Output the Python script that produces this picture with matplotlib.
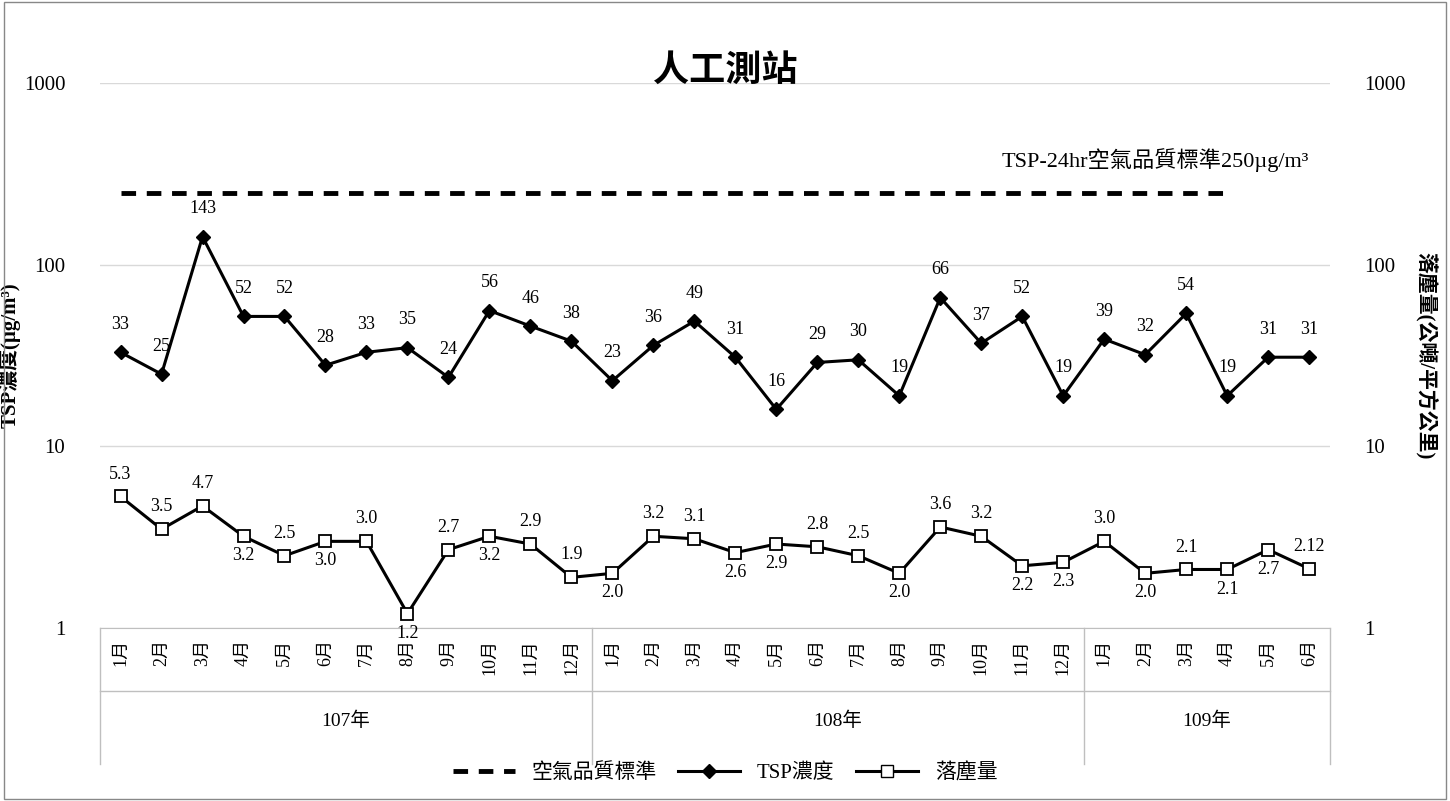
import matplotlib
matplotlib.use("Agg")
import matplotlib.pyplot as plt
from matplotlib.lines import Line2D

plt.rcParams['font.family'] = ['Liberation Serif', 'Noto Sans CJK TC']

months = ['1月', '2月', '3月', '4月', '5月', '6月', '7月', '8月', '9月', '10月', '11月', '12月',
          '1月', '2月', '3月', '4月', '5月', '6月', '7月', '8月', '9月', '10月', '11月', '12月',
          '1月', '2月', '3月', '4月', '5月', '6月']
years = ['107年', '108年', '109年']
year_counts = [12, 12, 6]
tsp = [33, 25, 143, 52, 52, 28, 33, 35, 24, 56, 46, 38,
       23, 36, 49, 31, 16, 29, 30, 19, 66, 37, 52, 19,
       39, 32, 54, 19, 31, 31]
tsp_labels = ['33', '25', '143', '52', '52', '28', '33', '35', '24', '56', '46', '38',
              '23', '36', '49', '31', '16', '29', '30', '19', '66', '37', '52', '19',
              '39', '32', '54', '19', '31', '31']
fall = [5.3, 3.5, 4.7, 3.2, 2.5, 3.0, 3.0, 1.2, 2.7, 3.2, 2.9, 1.9,
        2.0, 3.2, 3.1, 2.6, 2.9, 2.8, 2.5, 2.0, 3.6, 3.2, 2.2, 2.3,
        3.0, 2.0, 2.1, 2.1, 2.7, 2.12]
fall_labels = ['5.3', '3.5', '4.7', '3.2', '2.5', '3.0', '3.0', '1.2', '2.7', '3.2', '2.9', '1.9',
               '2.0', '3.2', '3.1', '2.6', '2.9', '2.8', '2.5', '2.0', '3.6', '3.2', '2.2', '2.3',
               '3.0', '2.0', '2.1', '2.1', '2.7', '2.12']
# label above (1) or below (-1) the point
fall_pos = [1, 1, 1, -1, 1, -1, 1, -1, 1, -1, 1, 1,
            -1, 1, 1, -1, -1, 1, 1, -1, 1, 1, -1, -1,
            1, -1, 1, -1, -1, 1]
standard = 250
std_end = 27

fig = plt.figure(figsize=(14.5, 8.01), dpi=100)
ax = fig.add_axes([0.069, 0.216, 0.848, 0.68])
x = list(range(len(months)))

ax.plot([x[0], std_end], [standard, standard], 'k--', lw=3.5, dashes=(3, 2.2))
ax.plot(x, tsp, 'k-', marker='D', ms=7, lw=2.2)
ax.plot(x, fall, 'k-', marker='s', ms=8, mfc='white', mew=1.3, lw=2.2)

for i in x:
    ax.annotate(tsp_labels[i], (i, tsp[i]), xytext=(0, 14), textcoords='offset points',
                ha='center', va='bottom', fontsize=13)
    off = 10 if fall_pos[i] > 0 else -8
    ax.annotate(fall_labels[i], (i, fall[i]), xytext=(0, off), textcoords='offset points',
                ha='center', va='bottom' if off > 0 else 'top', fontsize=13)

ax.text(x[-1], standard * 1.3, 'TSP-24hr空氣品質標準250µg/m³', ha='right', va='bottom', fontsize=16)

ax.set_yscale('log')
ax.set_ylim(1, 1000)
ax.set_xlim(-0.5, len(x) - 0.5)
ax.set_yticks([1, 10, 100, 1000])
ax.set_yticklabels(['1', '10', '100', '1000'], fontsize=15)
ax.minorticks_off()
ax.tick_params(axis='y', length=0, pad=25)
ax.grid(axis='y', color='#d9d9d9', lw=1)
ax.set_axisbelow(True)
for s in ['top', 'right', 'left']:
    ax.spines[s].set_visible(False)
ax.spines['bottom'].set_color('#bfbfbf')
ax.set_xticks(x)
ax.set_xticklabels(months, rotation=90, fontsize=13)
ax.tick_params(axis='x', length=0, pad=8)
ax.set_ylabel('TSP濃度(µg/m³)', fontsize=15, fontweight='bold', labelpad=2)

ax2 = ax.twinx()
ax2.set_yscale('log')
ax2.set_ylim(1, 1000)
ax2.set_yticks([1, 10, 100, 1000])
ax2.set_yticklabels(['1', '10', '100', '1000'], fontsize=15)
ax2.minorticks_off()
ax2.tick_params(axis='y', length=0, pad=25)
for s in ax2.spines.values():
    s.set_visible(False)
ax2.set_ylabel('落塵量(公噸/平方公里)', fontsize=15, fontweight='bold', rotation=-90, labelpad=22)

# group separators and year labels
tr = ax.get_xaxis_transform()
start = -0.5
for yr, n in zip(years, year_counts):
    end = start + n
    ax.plot([start, start], [0, -0.25], transform=tr, color='#bfbfbf', lw=1, clip_on=False)
    ax.text((start + end) / 2, -0.17, yr, transform=tr, ha='center', va='center', fontsize=14)
    start = end
ax.plot([start, start], [0, -0.25], transform=tr, color='#bfbfbf', lw=1, clip_on=False)
ax.plot([-0.5, start], [-0.115, -0.115], transform=tr, color='#bfbfbf', lw=1, clip_on=False)

fig.text(0.5, 0.91, '人工測站', ha='center', va='center', fontsize=26, fontweight='bold')

handles = [Line2D([], [], color='k', ls='--', lw=3.5, dashes=(3, 2.2)),
           Line2D([], [], color='k', marker='D', ms=7, lw=2.2),
           Line2D([], [], color='k', marker='s', ms=8, mfc='white', lw=2.2)]
fig.legend(handles, ['空氣品質標準', 'TSP濃度', '落塵量'], loc='center', bbox_to_anchor=(0.5, 0.035),
           ncol=3, frameon=False, fontsize=15, handlelength=3, columnspacing=1)

fig.patches.append(plt.Rectangle((0.003, 0.003), 0.994, 0.994, transform=fig.transFigure,
                                 fill=False, ec='#888888', lw=1))
fig.savefig('out.png')
